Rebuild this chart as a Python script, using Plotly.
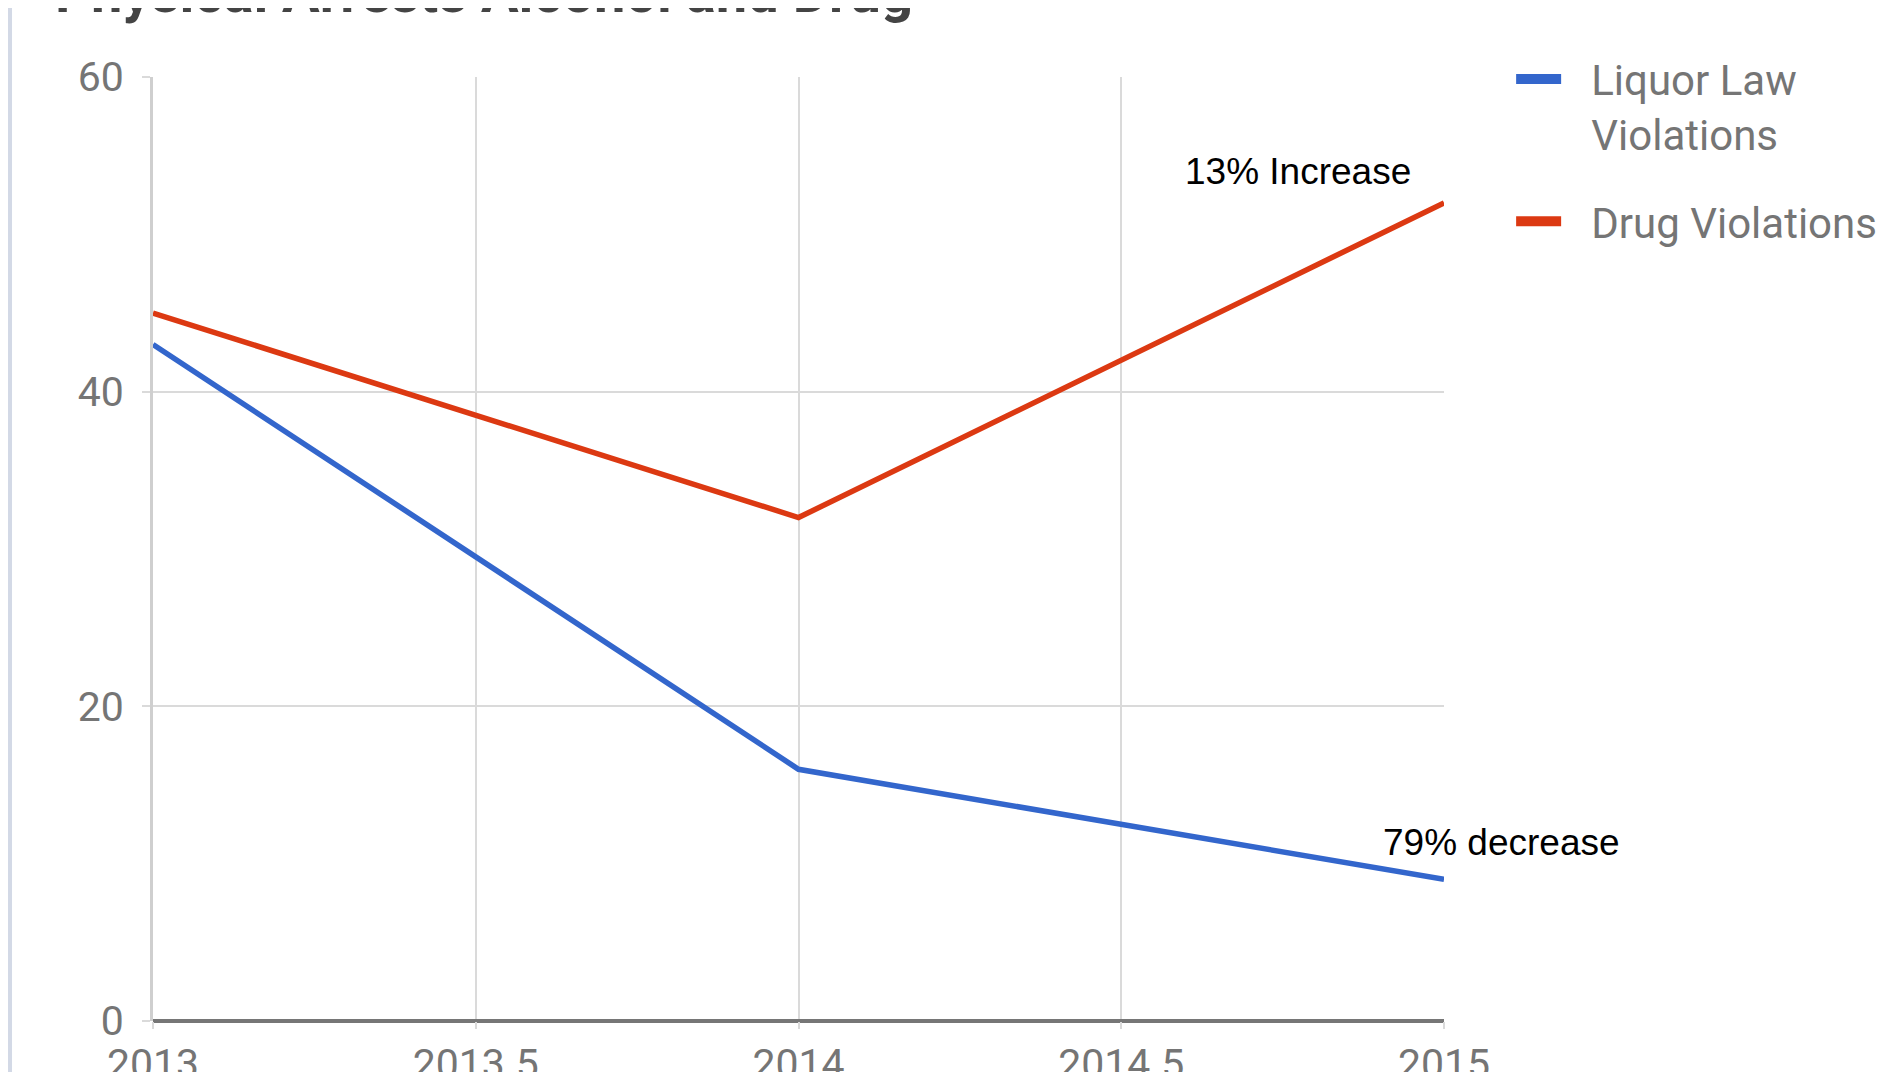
import plotly.graph_objects as go

years = [2013, 2014, 2015]
liquor = [43, 16, 9]
drug = [45, 32, 52]
series_names = ["Liquor Law<br>Violations", "Drug Violations"]
colors = ["#3366cc", "#dc3912"]
x_ticks = [2013, 2013.5, 2014, 2014.5, 2015]
y_ticks = [0, 20, 40, 60]
title = "Physical Arrests Alcohol and Drug"
notes = ["13% Increase", "79% decrease"]

pad = "\u00a0\u00a0\u200a"

fig = go.Figure()
for vals, name, col in zip([liquor, drug], series_names, colors):
    fig.add_trace(go.Scatter(x=years, y=vals, mode="lines", name=name,
                             line=dict(color=col, width=5.5), showlegend=False,
                             hoverinfo="skip"))
for i, (name, col) in enumerate(zip(series_names, colors)):
    label = "<br>".join(pad + part for part in name.split("<br>"))
    fig.add_trace(go.Scatter(x=[None], y=[None], mode="lines", name=label,
                             legendgroup=f"g{i}",
                             line=dict(color=col, width=13)))

grid = "#dadada"
fig.update_layout(
    width=1890, height=1072,
    margin=dict(l=145, r=454, t=69, b=59, autoexpand=False),
    paper_bgcolor="white", plot_bgcolor="white",
    font=dict(family="Roboto", color="#757575"),
    showlegend=True,
    legend=dict(x=1.052, y=1.0337, xanchor="left", yanchor="top",
                font=dict(family="Roboto", size=42, color="#757575"),
                traceorder="grouped", tracegroupgap=30, itemwidth=45,
                valign="top", bgcolor="rgba(0,0,0,0)"),
    xaxis=dict(range=[2013, 2015], tickvals=x_ticks,
               ticktext=[("%g" % v) for v in x_ticks],
               showgrid=True, gridcolor=grid, gridwidth=2,
               ticks="outside", ticklen=7, tickcolor=grid, tickwidth=2,
               ticklabelstandoff=0, automargin=False,
               tickfont=dict(family="Roboto", size=41, color="#757575"),
               zeroline=False, showline=False),
    yaxis=dict(range=[0, 60], tickvals=y_ticks,
               showgrid=True, gridcolor=grid, gridwidth=2,
               ticks="outside", ticklen=8, tickcolor=grid, tickwidth=2,
               ticklabelstandoff=10, automargin=False,
               tickfont=dict(family="Roboto", size=41, color="#757575"),
               zeroline=True, zerolinecolor="#767676", zerolinewidth=4,
               showline=True, linecolor="#cfcfcf", linewidth=3),
)

fig.add_annotation(text=notes[0], xref="paper", yref="paper", x=0.8869, y=0.9004,
                   xanchor="center", yanchor="middle", showarrow=False,
                   font=dict(family="Liberation Sans, Arial", size=37, color="black"))
fig.add_annotation(text=notes[1], xref="paper", yref="paper", x=1.0449, y=0.1886,
                   xanchor="center", yanchor="middle", showarrow=False,
                   font=dict(family="Liberation Sans, Arial", size=37, color="black"))
fig.add_annotation(text="<b>" + title + "</b>", xref="paper", yref="paper",
                   x=-0.0775, y=1.089, xanchor="left", yanchor="middle", showarrow=False,
                   font=dict(family="Roboto", size=56, color="#444444"))
fig.add_shape(type="rect", xref="paper", yref="paper", x0=-0.1123, x1=-0.1092,
              y0=-0.07, y1=1.08, line=dict(width=0), fillcolor="#d3d9e6", layer="above")

fig.write_html("out.html")
